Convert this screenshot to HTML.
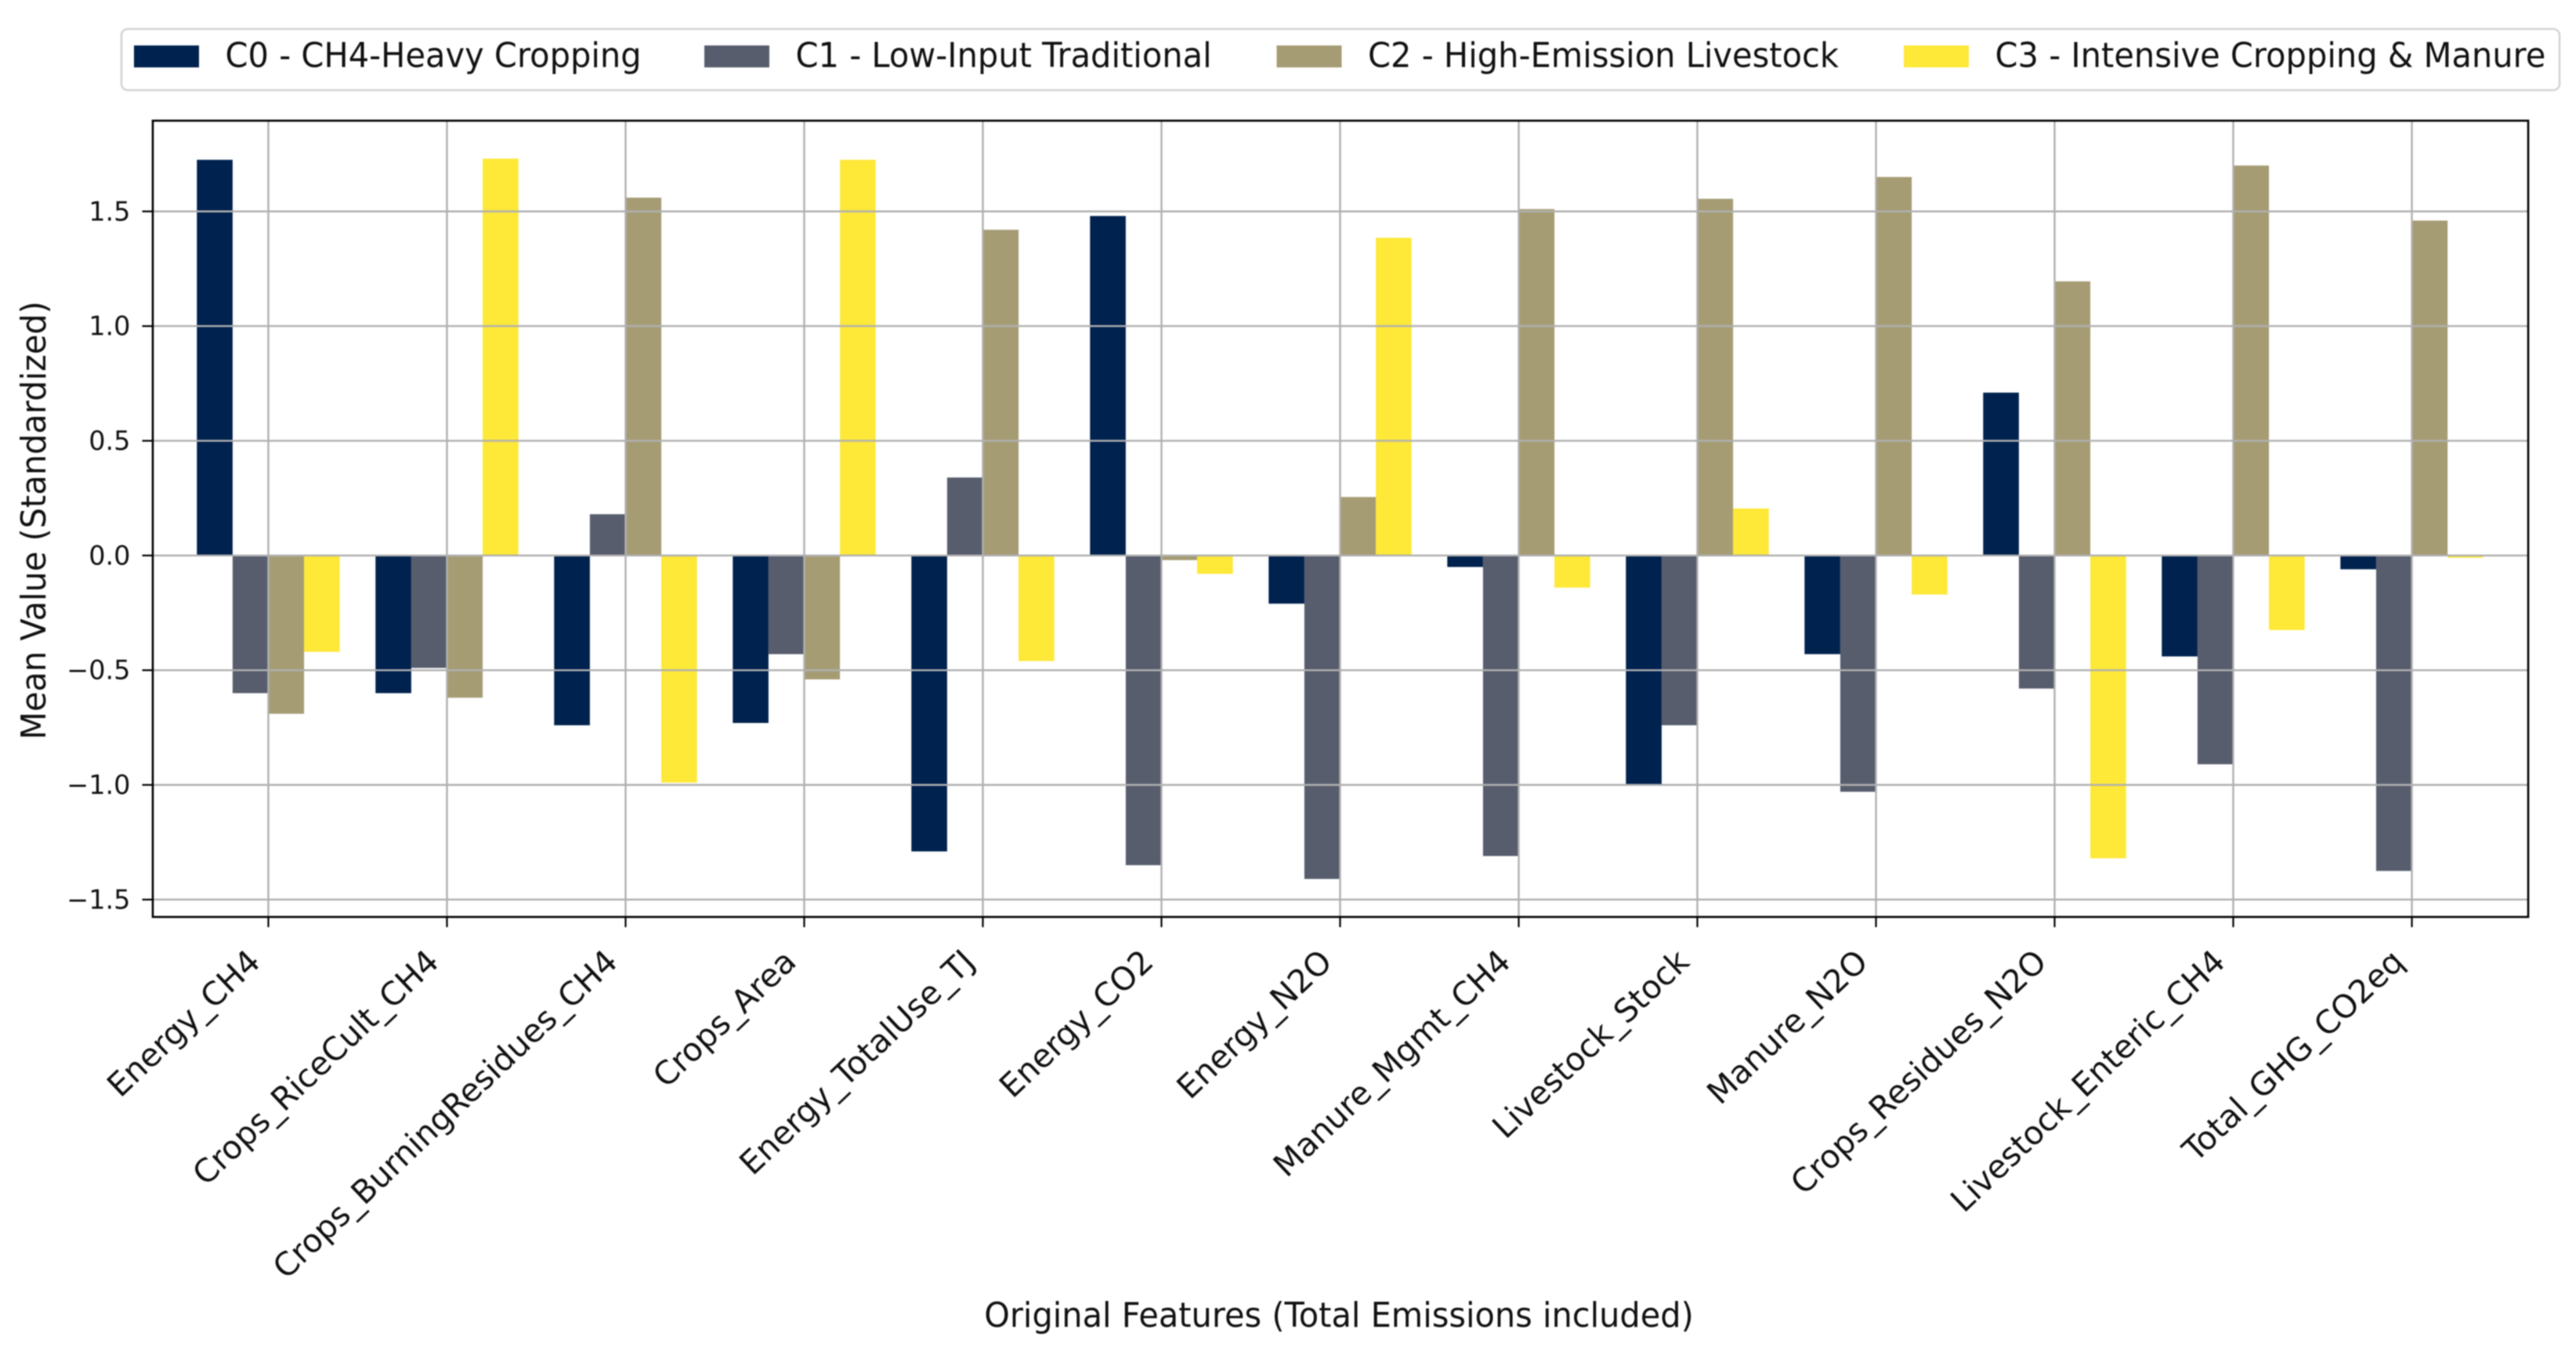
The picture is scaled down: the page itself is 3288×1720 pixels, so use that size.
<!DOCTYPE html>
<html lang="en">
<head>
<meta charset="utf-8">
<title>Cluster mean feature values</title>
<style>
html,body{margin:0;padding:0;background:#fff;width:3288px;height:1720px;overflow:hidden}
svg{display:block;filter:blur(0.7px)}
text{font-family:"DejaVu Sans","Liberation Sans",sans-serif;fill:#111}
</style>
</head>
<body>
<svg id="chart" xmlns="http://www.w3.org/2000/svg" width="3288" height="1720" viewBox="0 0 3288 1720"></svg>
<script>
const categories = ["Energy_CH4","Crops_RiceCult_CH4","Crops_BurningResidues_CH4","Crops_Area","Energy_TotalUse_TJ","Energy_CO2","Energy_N2O","Manure_Mgmt_CH4","Livestock_Stock","Manure_N2O","Crops_Residues_N2O","Livestock_Enteric_CH4","Total_GHG_CO2eq"];
const seriesNames = ["C0 - CH4-Heavy Cropping","C1 - Low-Input Traditional","C2 - High-Emission Livestock","C3 - Intensive Cropping & Manure"];
const c0Values = [1.725,-0.60,-0.74,-0.73,-1.29,1.48,-0.21,-0.05,-1.00,-0.43,0.71,-0.44,-0.06];
const c1Values = [-0.60,-0.49,0.18,-0.43,0.34,-1.35,-1.41,-1.31,-0.74,-1.03,-0.58,-0.91,-1.375];
const c2Values = [-0.69,-0.62,1.56,-0.54,1.42,-0.02,0.255,1.51,1.555,1.65,1.195,1.70,1.46];
const c3Values = [-0.42,1.73,-0.99,1.725,-0.46,-0.08,1.385,-0.14,0.205,-0.17,-1.32,-0.325,-0.01];
const yTicks = [-1.5,-1.0,-0.5,0.0,0.5,1.0,1.5];
const xAxisTitle = "Original Features (Total Emissions included)";
const yAxisTitle = "Mean Value (Standardized)";

const seriesValues = [c0Values,c1Values,c2Values,c3Values];
const seriesColors = ["#00224e","#575d6d","#a59c74","#fee838"];
const NS = "http://www.w3.org/2000/svg";
const svg = document.getElementById("chart");
const plot = {left:195,right:3227,top:154,bottom:1170};
const xScale = i => 342.5 + i * 228;
const yScale = v => 708.8 - v * 292.7;
const barWidth = 0.2 * 228;

function make(tag, attrs, parent, content){
  const el = document.createElementNS(NS, tag);
  for (const k in attrs) el.setAttribute(k, attrs[k]);
  if (content !== undefined) el.textContent = content;
  (parent || svg).appendChild(el);
  return el;
}

/* bars */
seriesValues.forEach((vals, s) => {
  vals.forEach((v, i) => {
    const x = xScale(i) + (s - 2) * barWidth;
    const y0 = yScale(0), y1 = yScale(v);
    const bar = make("rect", {x:x, y:Math.min(y0,y1), width:barWidth, height:Math.abs(y1-y0), fill:seriesColors[s]});
    
    
  });
});

/* grid */
categories.forEach((c, i) => {
  const g = make("line", {x1:xScale(i), x2:xScale(i), y1:plot.top, y2:plot.bottom, stroke:"#b0b0b0", "stroke-width":2.4});
  
  
});
yTicks.forEach(t => {
  const g = make("line", {x1:plot.left, x2:plot.right, y1:yScale(t), y2:yScale(t), stroke:"#b0b0b0", "stroke-width":2.4});
  
  
});

/* y ticks */
yTicks.forEach(t => {
  const m = make("line", {x1:181.5, x2:plot.left, y1:yScale(t), y2:yScale(t), stroke:"#000", "stroke-width":2.2});
  
  
  const label = (t < 0 ? "\u2212" : "") + Math.abs(t).toFixed(1);
  const l = make("text", {x:166.5, y:yScale(t)+11.5, "text-anchor":"end", "font-size":33.5}, svg, label);
  
  
});

/* x ticks */
categories.forEach((c, i) => {
  const m = make("line", {x1:xScale(i), x2:xScale(i), y1:plot.bottom, y2:1183, stroke:"#000", "stroke-width":2.2});
  
  
  const ax = xScale(i) - 8, ay = 1230;
  const l = make("text", {x:ax, y:ay, "text-anchor":"end", "font-size":41, transform:"rotate(-43.5 " + ax + " " + ay + ")"}, svg, c);
  
  
});

/* frame */
const frame = make("rect", {x:plot.left, y:plot.top, width:plot.right-plot.left, height:plot.bottom-plot.top, fill:"none", stroke:"#000", "stroke-width":2.6});



/* axis titles */
const xt = make("text", {"text-anchor":"middle", "font-size":43.5, transform:"translate(1709 1693) scale(0.954 1)"}, svg, xAxisTitle);


const yt = make("text", {"text-anchor":"middle", "font-size":43.5, transform:"translate(58 664) rotate(-90) scale(0.954 1)"}, svg, yAxisTitle);



/* legend */
const legend = make("g", {});


const box = make("rect", {x:155, y:37, width:3112, height:78, rx:8, ry:8, fill:"#fff", stroke:"#d4d4d4", "stroke-width":2.6}, legend);


const legendOffsets = [171, 899, 1629.5, 2430];
seriesNames.forEach((name, s) => {
  const sw = make("rect", {x:legendOffsets[s], y:58, width:83, height:28, fill:seriesColors[s]}, legend);
  
  
  const tx = make("text", {"font-size":43.5, transform:"translate(" + (legendOffsets[s]+116.5) + " 85.5) scale(0.956 1)"}, legend, name);
  
  
});
</script>
</body>
</html>
